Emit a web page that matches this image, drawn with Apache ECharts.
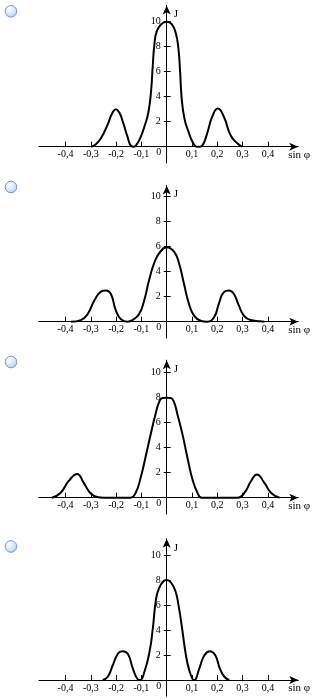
<!DOCTYPE html>
<html>
<head>
<meta charset="utf-8">
<script src="https://cdn.jsdelivr.net/npm/echarts@6/dist/echarts.min.js"></script>
<style>
  html, body { margin: 0; padding: 0; background: #fff; }
  #chart { width: 327px; height: 699px; }
</style>
</head>
<body>
<div id="chart"></div>
<script>
// Intensity J versus sin φ for four diffraction patterns (answer options 1–4)
const sinPhi1 = [-0.30, -0.28, -0.26, -0.234, -0.215, -0.201, -0.188, -0.175, -0.155, -0.14, -0.13, -0.12, -0.105, -0.086, -0.072, -0.062, -0.055, -0.049, -0.04, -0.022, 0, 0.02, 0.036, 0.046, 0.053, 0.059, 0.07, 0.086, 0.105, 0.119, 0.132, 0.143, 0.16, 0.18, 0.202, 0.226, 0.252, 0.279, 0.298];
const intensity1 = [0, 0.2, 0.67, 1.74, 2.7, 3.0, 2.75, 2.1, 0.8, 0.05, 0, 0.15, 0.67, 1.73, 2.8, 4.4, 6.5, 8.1, 9.2, 9.8, 10, 9.8, 9.07, 7.9, 6.0, 3.9, 2.27, 1.2, 0.27, 0, 0, 0.15, 1.07, 2.4, 3.05, 2.4, 0.94, 0.27, 0];

const sinPhi2 = [-0.378, -0.339, -0.313, -0.286, -0.26, -0.24, -0.221, -0.201, -0.181, -0.155, -0.135, -0.109, -0.089, -0.07, -0.05, -0.03, 0, 0.029, 0.049, 0.068, 0.088, 0.108, 0.134, 0.16, 0.187, 0.206, 0.226, 0.246, 0.265, 0.285, 0.305, 0.331, 0.37, 0.386];
const intensity2 = [0, 0.13, 0.6, 1.7, 2.4, 2.5, 2.24, 0.9, 0.2, 0, 0.13, 0.62, 1.7, 3.3, 4.66, 5.47, 5.95, 5.6, 4.66, 3.05, 1.43, 0.49, 0.08, 0, 0.35, 1.43, 2.37, 2.5, 2.24, 1.3, 0.49, 0.13, 0.03, 0];

const sinPhi3 = [-0.454, -0.42, -0.388, -0.354, -0.328, -0.302, -0.275, -0.249, -0.143, -0.123, -0.103, -0.083, -0.063, -0.044, -0.03, -0.017, 0, 0.016, 0.029, 0.042, 0.062, 0.082, 0.102, 0.122, 0.138, 0.28, 0.307, 0.333, 0.357, 0.386, 0.413, 0.446];
const intensity3 = [0, 0.38, 1.32, 1.9, 1.19, 0.38, 0.05, 0, 0, 0.38, 1.6, 3.3, 5.1, 6.7, 7.65, 7.98, 8, 7.98, 7.65, 6.7, 5.1, 3.2, 1.46, 0.38, 0, 0, 0.38, 1.32, 1.86, 1.19, 0.38, 0];

const sinPhi4 = [-0.253, -0.233, -0.213, -0.193, -0.176, -0.154, -0.134, -0.114, -0.105, -0.088, -0.068, -0.055, -0.042, -0.029, -0.013, 0, 0.017, 0.034, 0.047, 0.061, 0.076, 0.089, 0.103, 0.109, 0.129, 0.149, 0.171, 0.192, 0.21, 0.228, 0.247];
const intensity4 = [0, 0.26, 1.19, 2.1, 2.3, 2.1, 0.93, 0.05, 0, 0.66, 2.25, 4.1, 6.5, 7.4, 7.9, 8, 7.8, 7.14, 5.95, 4.1, 1.98, 0.79, 0.05, 0, 0.93, 1.98, 2.3, 1.98, 0.93, 0.26, 0];

const xTickValues = [-0.4, -0.3, -0.2, -0.1, 0.1, 0.2, 0.3, 0.4];
const xLabelValues = [-0.4, -0.3, -0.2, -0.1, 0, 0.1, 0.2, 0.3, 0.4];
const yTickValues = [2, 4, 6, 8, 10];
const xName = 'sin φ';
const yName = 'J';

const panels = [
  { x: sinPhi1, y: intensity1, zeroY: 146.7, yMax: 11.3 },
  { x: sinPhi2, y: intensity2, zeroY: 321.7, yMax: 10.9 },
  { x: sinPhi3, y: intensity3, zeroY: 497.7, yMax: 11.0 },
  { x: sinPhi4, y: intensity4, zeroY: 680.0, yMax: 11.3 }
];
const radioCenters = [11.3, 187, 362, 546.5];

const FONT = '"Liberation Serif", "DejaVu Serif", serif';
const X_MIN = -0.505, X_MAX = 0.52;
const Y_MIN = -1.3;
const PX_PER_UNIT = 12.5;
const ORIGIN_X = 166.7;
const PX_PER_X = 253;

// axes sit on the zero lines: shift them inward from the grid edges
const xAxisShift = Y_MIN * PX_PER_UNIT;   // negative → moves up into the grid
const yAxisShift = X_MIN * PX_PER_X;      // negative → moves right into the grid

const grid = [], xAxis = [], yAxis = [], series = [];
panels.forEach((p, i) => {
  const top = p.zeroY - p.yMax * PX_PER_UNIT;
  grid.push({
    left: ORIGIN_X + X_MIN * PX_PER_X,
    width: (X_MAX - X_MIN) * PX_PER_X,
    top: top,
    height: (p.yMax - Y_MIN) * PX_PER_UNIT,
    containLabel: false
  });
  xAxis.push({
    type: 'value', gridIndex: i, min: X_MIN, max: X_MAX,
    position: 'bottom', offset: xAxisShift,
    splitLine: { show: false },
    axisLine: { show: true, onZero: false,
      lineStyle: { color: '#000', width: 1 },
      symbol: ['none', 'arrow'], symbolSize: [6, 9], symbolOffset: [0, 0] },
    axisTick: { show: true, inside: true, length: 5, customValues: xTickValues,
      lineStyle: { color: '#000', width: 1 } },
    axisLabel: {
      show: true, margin: 3, customValues: xLabelValues,
      color: '#000', fontFamily: FONT, fontSize: 10,
      formatter: v => (Math.abs(v) < 1e-9 ? '{z|0}' : String(v).replace('.', ',')),
      rich: { z: { fontFamily: FONT, fontSize: 10, color: '#000', padding: [-2, 16, 0, 0] } }
    },
    name: xName, nameLocation: 'end', nameGap: -10,
    nameTextStyle: { color: '#000', fontFamily: FONT, fontSize: 11,
      align: 'left', verticalAlign: 'top', padding: [3, 0, 0, 0] }
  });
  // main vertical axis: line, labels and right-hand half of the ticks
  yAxis.push({
    type: 'value', gridIndex: i, min: Y_MIN, max: p.yMax,
    position: 'left', offset: yAxisShift,
    splitLine: { show: false },
    axisLine: { show: true, onZero: false,
      lineStyle: { color: '#000', width: 1 },
      symbol: ['none', 'arrow'], symbolSize: [6, 9], symbolOffset: [0, 0] },
    axisTick: { show: true, inside: true, length: 4, customValues: yTickValues,
      lineStyle: { color: '#000', width: 1 } },
    axisLabel: { show: true, margin: 6, customValues: yTickValues,
      color: '#000', fontFamily: FONT, fontSize: 10 },
    name: yName, nameLocation: 'end', nameGap: -9,
    nameTextStyle: { color: '#000', fontFamily: FONT, fontSize: 11,
      align: 'left', verticalAlign: 'middle', padding: [0, 0, 0, 7] }
  });
  // companion axis drawing the left-hand half of the ticks
  yAxis.push({
    type: 'value', gridIndex: i, min: Y_MIN, max: p.yMax,
    position: 'left', offset: yAxisShift,
    splitLine: { show: false },
    axisLine: { show: false, onZero: false },
    axisTick: { show: true, inside: false, length: 3, customValues: yTickValues,
      lineStyle: { color: '#000', width: 1 } },
    axisLabel: { show: false }
  });
  series.push({
    type: 'line', xAxisIndex: i, yAxisIndex: i * 2,
    data: p.x.map((v, k) => [v, p.y[k]]),
    smooth: 0.5, showSymbol: false, symbol: 'none',
    lineStyle: { color: '#000', width: 2 },
    silent: true, animation: false
  });
});

// radio buttons in front of each option
const graphic = radioCenters.map(cy => ({
  type: 'circle', shape: { cx: 11, cy: cy, r: 5.8 },
  style: {
    fill: new echarts.graphic.RadialGradient(0.35, 0.3, 0.8, [
      { offset: 0, color: '#ffffff' },
      { offset: 0.6, color: '#d6e2f2' },
      { offset: 1, color: '#a9bfdc' }
    ]),
    stroke: '#8199bb', lineWidth: 1
  }
}));

const chart = echarts.init(document.getElementById('chart'), null, { renderer: 'canvas' });
chart.setOption({
  animation: false,
  backgroundColor: '#fff',
  grid, xAxis, yAxis, series, graphic
});
</script>
</body>
</html>
